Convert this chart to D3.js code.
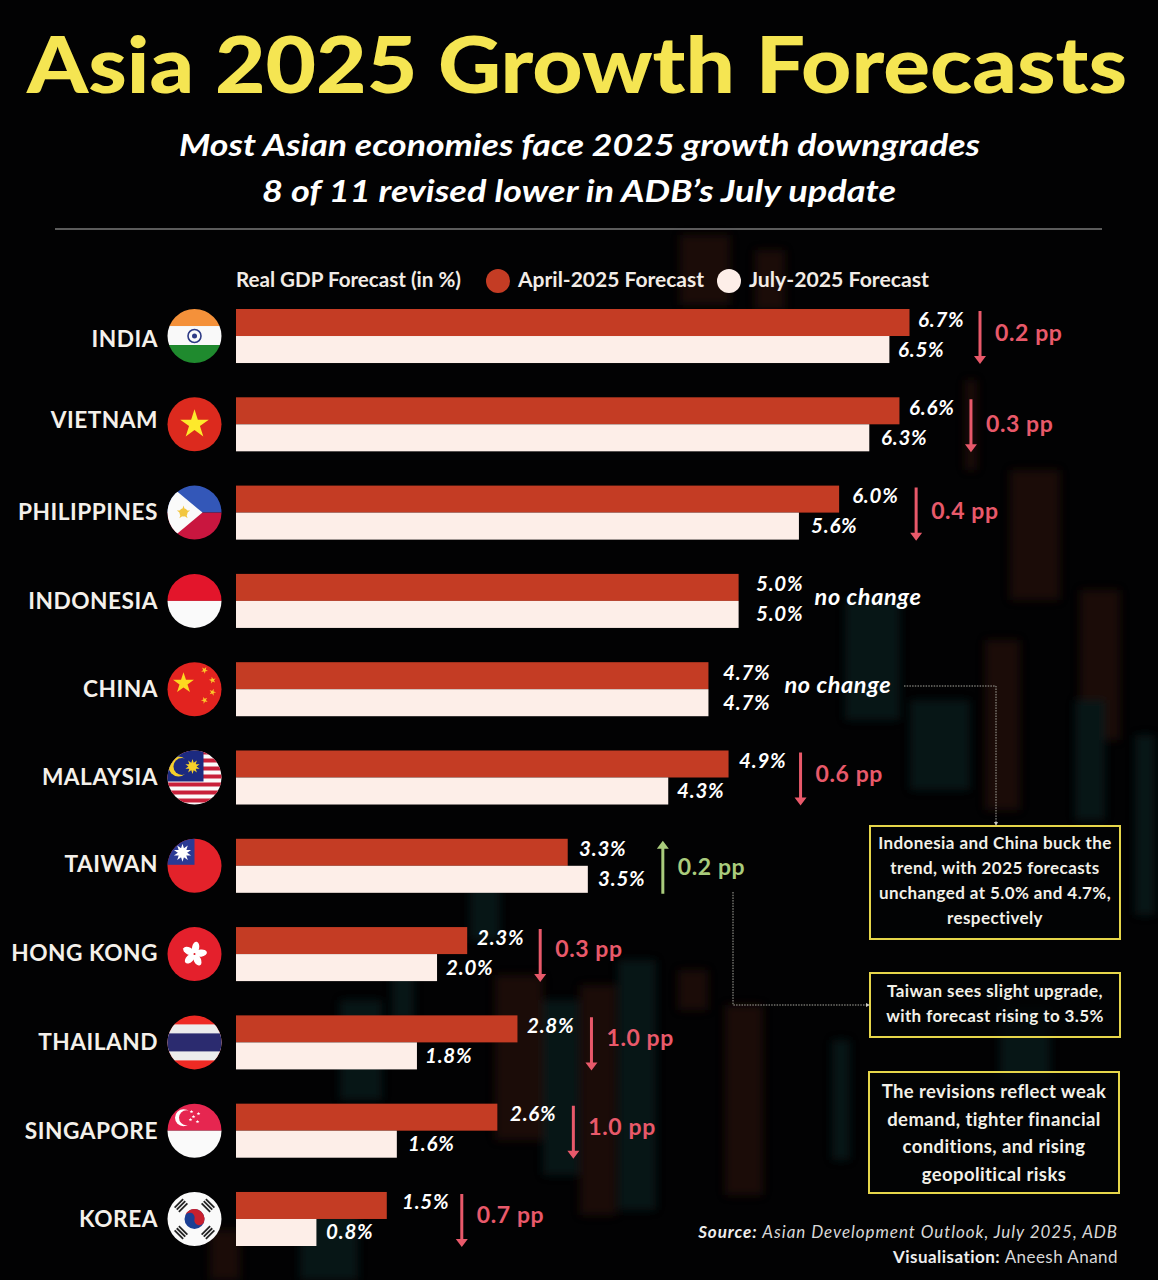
<!DOCTYPE html>
<html><head><meta charset="utf-8">
<script src="https://cdn.jsdelivr.net/npm/d3@7"></script>
<style>
html,body{margin:0;padding:0;background:#000}
svg{display:block}
text{font-family:Lato,"Noto Sans",sans-serif}
</style></head><body>
<svg id="c" width="1158" height="1280"></svg>
<script>
// ---- data ----
const countries = ["INDIA","VIETNAM","PHILIPPINES","INDONESIA","CHINA","MALAYSIA","TAIWAN","HONG KONG","THAILAND","SINGAPORE","KOREA"];
const april2025 = [6.7,6.6,6.0,5.0,4.7,4.9,3.3,2.3,2.8,2.6,1.5];
const july2025  = [6.5,6.3,5.6,5.0,4.7,4.3,3.5,2.0,1.8,1.6,0.8];
const seriesNames = ["April-2025 Forecast","July-2025 Forecast"];
const titleText = "Asia 2025 Growth Forecasts";
const subtitleLines = ["Most Asian economies face 2025 growth downgrades","8 of 11 revised lower in ADB’s July update"];
const legendTitle = "Real GDP Forecast (in %)";
const noteOne = ["Indonesia and China buck the","trend, with 2025 forecasts","unchanged at 5.0% and 4.7%,","respectively"];
const noteTwo = ["Taiwan sees slight upgrade,","with forecast rising to 3.5%"];
const noteThree = ["The revisions reflect weak","demand, tighter financial","conditions, and rising","geopolitical risks"];

// ---- colours ----
const RED="#c43c24", CREAM="#fdeee8", YEL="#f5e552", BOX="#e6d64a", DOWN="#e8596a", UP="#a9cb7c";

const svg=d3.select("#c");
const defs=svg.append("defs");
defs.append("filter").attr("id","soft").attr("x","-20%").attr("width","140%").append("feGaussianBlur").attr("stdDeviation",4);
svg.append("rect").attr("width",1158).attr("height",1280).attr("fill","#020203");

// ---- decorative candlestick backdrop ----
const O="#341708",T="#0b2a2a";
const backdrop=[[680,235,50,70,O],[755,250,30,60,O],[965,380,12,90,O],[1010,470,50,130,O],[1080,590,40,150,O],[845,600,55,120,T],
[910,700,60,90,T],[985,640,35,170,O],[1135,735,20,180,T],[1075,700,30,120,T],[495,975,48,165,O],[543,1000,36,175,T],[580,985,36,230,O],
[618,960,38,250,T],[678,970,30,40,O],[725,1005,38,190,O],[392,960,22,60,T],[340,1000,42,100,T],[300,1210,58,70,T],[210,1230,30,50,O],[832,1040,18,120,T],[470,860,30,80,T],[1000,1010,50,70,T]];
svg.append("g").attr("filter","url(#soft)").attr("opacity",.5).selectAll("rect").data(backdrop).join("rect")
  .attr("x",d=>d[0]).attr("y",d=>d[1]).attr("width",d=>d[2]).attr("height",d=>d[3]).attr("fill",d=>d[4]);

// ---- scales ----
const x=d3.scaleLinear().domain([0,6.7]).range([236,909.5]);
const y=d3.scaleBand().domain(countries).range([309,1246]).paddingInner(.388);
const sub=d3.scaleBand().domain(["april","july"]).range([0,y.bandwidth()]);
const rows=countries.map((c,i)=>({c,i,a:april2025[i],j:july2025[i]}));

// ---- heading ----
function fit(sel,w){return sel.attr("textLength",w).attr("lengthAdjust","spacingAndGlyphs");}
fit(svg.append("text").attr("x",27).attr("y",93).attr("font-size",79).attr("font-weight",900).attr("fill",YEL).text(titleText),1100);
[[179,156,801],[262,202,634]].forEach((p,i)=>fit(svg.append("text").attr("x",p[0]).attr("y",p[1]).attr("font-size",31).attr("font-style","italic").attr("font-weight",700).attr("fill","#fff").text(subtitleLines[i]),p[2]));
svg.append("line").attr("x1",55).attr("x2",1102).attr("y1",229).attr("y2",229).attr("stroke","#b4b4b4").attr("stroke-width",1.2);

// ---- legend ----
const lg=svg.append("g").attr("font-size",20).attr("font-weight",700).attr("fill","#f2ece6");
fit(lg.append("text").attr("x",236).attr("y",287).text(legendTitle),225);
lg.append("circle").attr("cx",498).attr("cy",281).attr("r",12).attr("fill",RED);
fit(lg.append("text").attr("x",518).attr("y",287).text(seriesNames[0]),186);
lg.append("circle").attr("cx",729).attr("cy",281).attr("r",12).attr("fill",CREAM);
fit(lg.append("text").attr("x",749).attr("y",287).text(seriesNames[1]),180);

// ---- bars ----
const g=svg.append("g");
g.selectAll("rect.a").data(rows).join("rect").attr("class","a")
 .attr("x",x(0)).attr("y",d=>y(d.c)+sub("april")).attr("width",d=>x(d.a)-x(0)).attr("height",sub.bandwidth()).attr("fill",RED);
g.selectAll("rect.j").data(rows).join("rect").attr("class","j")
 .attr("x",x(0)).attr("y",d=>y(d.c)+sub("july")).attr("width",d=>x(d.j)-x(0)).attr("height",sub.bandwidth()).attr("fill",CREAM);

// ---- value labels (gaps and nudges are layout only) ----
const gapA=[8.5,9.6,13,17.4,14.6,10.5,11.3,9.8,9.5,12.6,15.2], gapJ=[8.6,11.7,12.1,17.4,14.6,8.8,10.2,9,8,11.2,9.6];
const vl=svg.append("g").attr("font-size",20.5).attr("font-style","italic").attr("font-weight",700).attr("fill","#fff").attr("letter-spacing",.8);
vl.selectAll("text.a").data(rows).join("text").attr("class","a").attr("x",d=>x(d.a)+gapA[d.i])
 .attr("y",d=>y(d.c)+sub("april")+sub.bandwidth()/2+4).text(d=>d.a.toFixed(1)+"%");
vl.selectAll("text.j").data(rows).join("text").attr("class","j").attr("x",d=>x(d.j)+gapJ[d.i])
 .attr("y",d=>y(d.c)+sub("july")+sub.bandwidth()/2+7).text(d=>d.j.toFixed(1)+"%");

// ---- change arrows ----
const arrowGap=[70.5,71.5,77,0,0,72,75,73,74,76,75], ppNudge=[1,4,2,0,0,0,5,-1,0,0,0];
const changed=rows.filter(d=>d.a!==d.j), same=rows.filter(d=>d.a===d.j);
const ax=d=>x(Math.max(d.a,d.j))+arrowGap[d.i];
const arrows=svg.append("g");
arrows.selectAll("path").data(changed).join("path")
 .attr("fill",d=>d.j>d.a?UP:DOWN)
 .attr("d",d=>{const X=ax(d),t=y(d.c)+2,b=y(d.c)+y.bandwidth()+1;
   return d.j>d.a
   ? `M${X-1.5},${b}V${t+8}H${X-6}L${X},${t}L${X+6},${t+8}H${X+1.5}V${b}Z`
   : `M${X-1.5},${t}V${b-8}H${X-6}L${X},${b}L${X+6},${b-8}H${X+1.5}V${t}Z`;});
svg.append("g").attr("font-size",23).attr("font-weight",700).attr("letter-spacing",.6).selectAll("text").data(changed).join("text")
 .attr("x",d=>ax(d)+15).attr("y",d=>y(d.c)+y.bandwidth()/2+4+ppNudge[d.i])
 .attr("fill",d=>d.j>d.a?UP:DOWN).text(d=>Math.abs(d.a-d.j).toFixed(1)+" pp");
svg.append("g").attr("font-size",23.5).attr("font-style","italic").attr("font-weight",700).attr("fill","#fff").attr("letter-spacing",.6)
 .selectAll("text").data(same).join("text").attr("x",d=>x(d.a)+76).attr("y",d=>y(d.c)+y.bandwidth()/2+4).text("no change");

// ---- country names ----
const nameNudge=[3,-4,-1,0,0,-1,-2,-1,0,0,0];
svg.append("g").attr("font-size",22.7).attr("font-weight",700).attr("fill","#f4f0ea").attr("text-anchor","end").attr("letter-spacing",.5)
 .selectAll("text").data(rows).join("text").attr("x",158).attr("y",d=>y(d.c)+y.bandwidth()/2+8+nameNudge[d.i]).text(d=>d.c);

// ---- flags ----
function star(cx,cy,R,rot=-90){const p=[];for(let i=0;i<10;i++){const r=i%2?R*.382:R,a=(rot+i*36)*Math.PI/180;p.push([cx+r*Math.cos(a),cy+r*Math.sin(a)]);}return "M"+p.join("L")+"Z";}
function r(s,X,Y,W,H,f){s.append("rect").attr("x",X).attr("y",Y).attr("width",W).attr("height",H).attr("fill",f);}
const flags={
 "INDIA":s=>{r(s,-28,-28,56,18,"#f4913a");r(s,-28,-10,56,19,"#f9f9f9");r(s,-28,9,56,19,"#1f8a2e");
   s.append("circle").attr("r",6.5).attr("fill","none").attr("stroke","#2d3a85").attr("stroke-width",1.6);s.append("circle").attr("r",2.5).attr("fill","#2d3a85");},
 "VIETNAM":s=>{r(s,-28,-28,56,56,"#dc2a1e");s.append("path").attr("d",star(0,0,15)).attr("fill","#fde92c");},
 "PHILIPPINES":s=>{r(s,-28,-28,56,28,"#3357b8");r(s,-28,0,56,28,"#c9163f");s.append("path").attr("d","M-28,-30L8,0L-28,30Z").attr("fill","#fafafa");s.append("circle").attr("cx",-11).attr("cy",0).attr("r",4).attr("fill","#f2c640");s.append("path").attr("d",star(-11,0,7)).attr("fill","#f2c640");},
 "INDONESIA":s=>{r(s,-28,-28,56,28,"#e3152b");r(s,-28,0,56,28,"#fafafa");},
 "CHINA":s=>{r(s,-28,-28,56,56,"#e2231f");s.append("path").attr("d",star(-11,-6,11)).attr("fill","#fdd820");
   [[10,-19,-60],[18,-9,-30],[18,3,0],[10,11,30]].forEach(q=>s.append("path").attr("d",star(q[0],q[1],3.6,q[2])).attr("fill","#fbc62a"));},
 "MALAYSIA":s=>{r(s,-28,-28,56,56,"#fafafa");d3.range(7).forEach(i=>r(s,-28,-27+i*8,56,4,"#c8203a"));r(s,-28,-28,37,32,"#1c2a80");
   s.append("circle").attr("cx",-16).attr("cy",-11).attr("r",10).attr("fill","#f5cf2a");s.append("circle").attr("cx",-12.5).attr("cy",-11).attr("r",8.5).attr("fill","#1c2a80");
   s.append("path").attr("d",star(-2,-11,7.5,-90)).attr("fill","#f5cf2a");s.append("path").attr("d",star(-2,-11,7.5,-54)).attr("fill","#f5cf2a");s.append("circle").attr("cx",-2).attr("cy",-11).attr("r",3.8).attr("fill","#f5cf2a");},
 "TAIWAN":s=>{r(s,-28,-28,56,56,"#e3222a");r(s,-28,-28,28,27,"#2b3a94");s.append("path").attr("d",star(-12,-13,9,-90)).attr("fill","#fff");s.append("path").attr("d",star(-12,-13,9,-54)).attr("fill","#fff");s.append("circle").attr("cx",-12).attr("cy",-13).attr("r",4.5).attr("fill","#fff");},
 "HONG KONG":s=>{r(s,-28,-28,56,56,"#e4202c");d3.range(5).forEach(i=>s.append("ellipse").attr("cx",0).attr("cy",-6.5).attr("rx",3.6).attr("ry",6).attr("transform",`rotate(${i*72+10})`).attr("fill","#fff"));s.append("circle").attr("r",1).attr("fill","#e4202c");},
 "THAILAND":s=>{r(s,-28,-28,56,56,"#ee2a24");r(s,-28,-18,56,36,"#ececec");r(s,-28,-9,56,18,"#2b2b6f");},
 "SINGAPORE":s=>{r(s,-28,-28,56,28,"#e62650");r(s,-28,0,56,28,"#fafafa");s.append("circle").attr("cx",-11).attr("cy",-13).attr("r",8.5).attr("fill","#fff");s.append("circle").attr("cx",-8).attr("cy",-13).attr("r",7.5).attr("fill","#e62650");
   [[-3,-19],[4,-17],[-4,-11],[3,-9],[-1,-14]].forEach(q=>s.append("path").attr("d",star(q[0],q[1],2)).attr("fill","#fff"));},
 "KOREA":s=>{r(s,-28,-28,56,56,"#fafafa");s.append("circle").attr("r",10).attr("fill","#1c3f94");s.append("path").attr("d","M-10,0A10,10 0 0 1 10,0A5,5 0 0 1 0,0A5,5 0 0 0 -10,0Z").attr("fill","#c8202e").attr("transform","rotate(15)");
   [-45,45,135,-135].forEach(a=>{const t=s.append("g").attr("transform",`rotate(${a}) translate(0,-19)`);[-3,0,3].forEach(o=>r(t,-6,o-1,12,1.8,"#222"));});}
};
rows.forEach(d=>{
  const id="fc"+d.i, cy=y(d.c)+y.bandwidth()/2;
  defs.append("clipPath").attr("id",id).append("circle").attr("r",27);
  const s=svg.append("g").attr("transform",`translate(194.5,${cy})`).attr("clip-path",`url(#${id})`);
  flags[d.c](s);
});

// ---- callouts ----
function note(X,Y,W,H,lines,first,step,size,wt){
  svg.append("rect").attr("x",X).attr("y",Y).attr("width",W).attr("height",H).attr("fill","rgba(3,4,5,.75)").attr("stroke",BOX).attr("stroke-width",2);
  svg.append("g").attr("font-size",size).attr("font-weight",wt).attr("fill","#f2f0e8").attr("text-anchor","middle").attr("letter-spacing",.4)
   .selectAll("text").data(lines).join("text").attr("x",X+W/2).attr("y",(d,i)=>first+i*step).text(d=>d);
}
note(870,826,250,113,noteOne,849,25,17,700);
note(870,973,250,64,noteTwo,997,25,17,700);
note(869,1072,250,121,noteThree,1098,27.5,18.5,700);
const dots=svg.append("g").attr("fill","none").attr("stroke","#a8a8a0").attr("stroke-width",1).attr("stroke-dasharray","1.5 1.2");
dots.append("path").attr("d","M904,686H996V824");
dots.append("path").attr("d","M733,892V1005H867");
svg.append("path").attr("d","M994,822h4l-2,4Z M866,1003v4l4,-2Z").attr("fill","#c8c8c0");

// ---- source ----
const sr=svg.append("g").attr("font-size",17).attr("fill","#eee").attr("text-anchor","end");
const l1=sr.append("text").attr("x",1118).attr("y",1238).attr("letter-spacing",.95);
l1.append("tspan").attr("font-weight",700).attr("font-style","italic").text("Source: ");
l1.append("tspan").attr("font-style","italic").attr("font-weight",400).attr("fill","#d8d8d8").text("Asian Development Outlook, July 2025, ADB");
const l2=sr.append("text").attr("x",1118).attr("y",1263).attr("letter-spacing",.45);
l2.append("tspan").attr("font-weight",700).text("Visualisation: ");
l2.append("tspan").attr("font-weight",400).attr("fill","#d8d8d8").text("Aneesh Anand");
</script>
</body></html>
